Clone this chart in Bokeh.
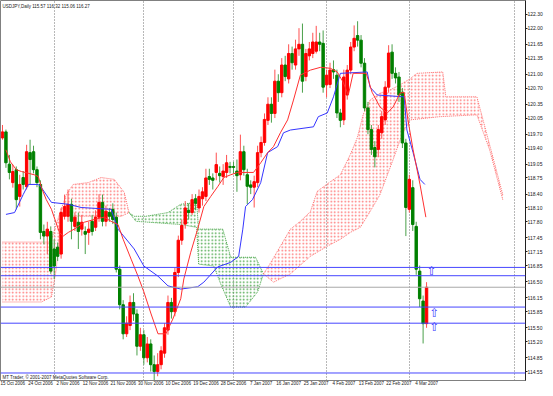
from bokeh.plotting import figure
from bokeh.models import (FixedTicker, Range1d, ColumnDataSource, Label, Span,
                          NumeralTickFormatter, AllLabels)
from bokeh.core.properties import value
from bokeh.embed import file_html
from bokeh.resources import INLINE

# ---------------- data ----------------
header_text = "USDJPY,Daily  115.57 116.32 115.06 116.27"
footer_text = "MT Trader, © 2001-2007 MetaQuotes Software Corp."

date_bars = [0, 8, 16, 24, 32, 40, 48, 56, 64, 72, 80, 88, 96, 104, 112, 120]
date_labels = ["15 Oct 2006", "24 Oct 2006", "2 Nov 2006", "12 Nov 2006", "21 Nov 2006",
               "30 Nov 2006", "10 Dec 2006", "19 Dec 2006", "28 Dec 2006", "7 Jan 2007",
               "16 Jan 2007", "25 Jan 2007", "4 Feb 2007", "13 Feb 2007", "22 Feb 2007",
               "4 Mar 2007"]
month_bars = [15, 41, 67, 94, 118, 148.4]

price_ticks = [122.30, 122.00, 121.65, 121.35, 121.00, 120.70, 120.35, 120.05, 119.70,
               119.40, 119.05, 118.75, 118.40, 118.10, 117.80, 117.45, 117.15, 116.85,
               116.50, 116.15, 115.85, 115.50, 115.20, 114.85, 114.55, 114.25]

open_ = [119.62, 119.75, 119.05, 118.65, 118.93, 118.35, 118.76, 118.56, 119.30, 119.32,
         118.93, 118.61, 117.59, 117.49, 117.59, 117.21, 117.25, 117.10, 117.92, 117.92,
         118.18, 117.70, 117.79, 117.64, 117.59, 117.57, 117.81, 117.68, 117.90, 118.22,
         117.81, 118.00, 118.07, 117.90, 116.77, 116.00, 115.37, 115.55, 116.05, 115.80,
         115.10, 115.35, 114.85, 115.15, 114.70, 114.55, 114.70, 114.95, 115.45, 116.05,
         115.85, 116.70, 117.40, 117.75, 118.05, 118.00, 118.30, 118.10, 118.30, 118.35,
         118.78, 118.75, 118.87, 118.85, 118.78, 118.87, 119.00, 119.00, 118.90, 118.82,
         119.32, 118.82, 118.60, 118.55, 118.65, 119.30, 119.52, 120.00, 120.35, 120.15,
         120.85, 120.60, 121.20, 120.90, 121.45, 121.20, 121.55, 121.65, 120.95, 121.40,
         121.45, 121.50, 121.70, 121.67, 120.77, 120.78, 121.10, 120.98, 120.16, 120.01,
         120.55, 121.09, 121.59, 121.84, 121.74, 121.24, 120.27, 119.80, 119.41, 119.37,
         119.73, 120.01, 120.72, 121.48, 121.02, 120.94, 120.61, 119.51, 118.07, 118.54,
         117.70, 116.73, 116.08, 115.59]
high_ = [119.90, 119.80, 119.25, 119.04, 119.00, 118.82, 118.90, 119.47, 119.58, 119.45,
         119.00, 118.70, 117.74, 117.80, 117.70, 117.42, 117.35, 118.10, 118.39, 118.50,
         118.30, 118.00, 118.00, 117.95, 117.70, 117.80, 117.95, 118.05, 118.40, 118.39,
         118.15, 118.10, 118.20, 118.00, 116.85, 116.10, 115.75, 116.20, 116.25, 115.90,
         115.50, 115.45, 115.30, 115.25, 114.90, 114.95, 115.10, 115.60, 116.20, 116.15,
         116.80, 117.50, 117.85, 118.25, 118.20, 118.40, 118.40, 118.50, 118.55, 118.95,
         118.95, 118.85, 119.30, 119.00, 119.05, 119.25, 119.10, 119.10, 119.15, 119.69,
         119.45, 118.95, 118.70, 118.80, 119.45, 119.65, 120.15, 120.50, 120.50, 121.10,
         121.00, 121.35, 121.40, 121.65, 121.60, 121.75, 122.00, 122.10, 121.55, 121.70,
         121.90, 122.05, 121.90, 121.95, 121.10, 121.25, 121.30, 121.10, 120.25, 121.10,
         121.20, 121.70, 122.06, 122.15, 121.85, 121.35, 120.40, 119.90, 119.55, 119.90,
         120.20, 120.85, 121.63, 121.65, 121.15, 121.05, 120.70, 119.60, 118.82, 118.70,
         117.80, 116.85, 116.20, 116.49]
low_ = [119.58, 118.97, 118.72, 118.54, 118.07, 118.13, 118.50, 118.50, 118.61, 118.85,
        118.55, 117.42, 117.31, 117.10, 116.67, 116.56, 116.95, 117.00, 117.85, 117.80,
        117.42, 117.60, 117.21, 117.50, 117.10, 117.30, 117.50, 117.60, 117.80, 117.70,
        117.70, 117.80, 117.75, 116.70, 115.90, 115.25, 115.30, 115.45, 115.65, 114.90,
        115.00, 114.70, 114.75, 114.55, 114.35, 114.45, 114.60, 114.85, 115.35, 115.70,
        115.75, 116.60, 117.30, 117.65, 117.85, 117.95, 118.05, 118.00, 118.15, 118.25,
        118.60, 118.50, 118.70, 118.65, 118.60, 118.75, 118.85, 118.85, 118.45, 118.70,
        118.80, 118.18, 118.40, 118.11, 118.55, 119.20, 119.45, 119.90, 119.95, 120.05,
        120.40, 120.50, 120.85, 120.80, 121.10, 121.10, 121.40, 120.60, 120.85, 121.30,
        121.35, 121.45, 121.50, 120.60, 120.50, 120.70, 120.90, 120.05, 119.85, 119.90,
        120.45, 121.00, 121.50, 121.60, 121.15, 120.20, 119.70, 119.25, 118.98, 119.20,
        119.60, 119.90, 120.60, 120.90, 120.80, 120.40, 119.40, 117.49, 118.00, 117.60,
        116.65, 115.95, 115.16, 115.50]
close_ = [119.75, 119.08, 118.87, 118.89, 118.28, 118.61, 118.61, 119.32, 119.15, 118.93,
          118.65, 117.57, 117.49, 117.64, 116.73, 116.84, 117.05, 118.00, 118.13, 118.18,
          117.81, 117.90, 117.59, 117.79, 117.53, 117.64, 117.59, 117.90, 118.22, 117.81,
          118.03, 117.92, 117.85, 116.77, 116.00, 115.37, 115.60, 116.05, 115.80, 115.10,
          115.35, 114.85, 115.15, 114.70, 114.55, 114.70, 115.00, 115.50, 116.05, 115.85,
          116.70, 117.40, 117.72, 118.10, 118.00, 118.28, 118.20, 118.35, 118.45, 118.75,
          118.72, 118.70, 119.04, 118.80, 118.90, 119.08, 118.98, 118.98, 118.80, 119.32,
          118.93, 118.57, 118.55, 118.67, 119.30, 119.52, 120.02, 120.35, 120.15, 120.85,
          120.60, 121.20, 120.95, 121.45, 121.25, 121.55, 121.65, 120.85, 121.45, 121.55,
          121.70, 121.70, 121.65, 120.72, 120.98, 121.09, 121.05, 120.16, 120.00, 120.94,
          121.09, 121.59, 121.78, 121.74, 121.24, 120.27, 119.80, 119.37, 119.21, 119.80,
          120.08, 120.72, 121.46, 121.02, 120.92, 120.55, 119.51, 118.11, 118.72, 117.74,
          116.77, 116.13, 115.59, 116.38]

# Ichimoku lines (bar index, price)
tenkan_x = [1, 2.3, 4, 5.5, 9.2, 10.4, 11.3, 12.7, 14.2, 16.5, 17.6, 19.1, 20.8, 23.7, 26.6,
            29.5, 31.5, 33.5, 35, 37.3, 39.3, 41, 43.1, 45.1, 47.4, 49.4, 51.7, 52.6, 54.6,
            56.6, 58.4, 60.4, 62.4, 64.2, 66.2, 68.2, 72.8, 74.9, 76.9, 78.6, 80.6, 82.7,
            84.4, 86.4, 89.3, 92.2, 95.1, 97.1, 98.8, 100.3, 101.7, 105.5, 107.2, 109.5,
            111.6, 113.3, 115.3, 116.5, 117.6, 119.1, 121.1, 122.8]
tenkan_y = [119.36, 119.10, 118.93, 118.89, 118.82, 118.78, 118.54, 118.28, 118.07, 117.57,
            117.49, 117.57, 117.64, 117.79, 117.85, 117.90, 117.81, 117.74, 117.42, 116.99,
            116.62, 116.28, 115.80, 115.37, 115.37, 115.69, 116.13, 116.56, 117.14, 117.64,
            118.13, 118.35, 118.56, 118.76, 118.82, 118.87, 118.87, 119.08, 119.30, 119.43,
            119.73, 120.01, 120.44, 120.98, 121.09, 121.15, 121.13, 121.05, 120.83, 120.55,
            121.02, 121.02, 120.61, 120.29, 120.16, 120.29, 120.59, 120.61, 120.01, 119.36,
            118.61, 117.90]
kijun_x = [1, 3.5, 6, 7.5, 10.4, 11.3, 14.2, 19.1, 22.8, 31.5, 33.5, 38.2, 41, 45.1, 48,
           51.7, 56.6, 58.4, 62.4, 66.2, 68.5, 69.7, 70.5, 72.5, 74.9, 76.9, 79.8, 81.5,
           83.5, 90.2, 91.6, 94.2, 96, 98, 105.8, 106.6, 108.7, 116.5, 117.3, 119.1, 121.1,
           122.5]
kijun_y = [117.96, 118.00, 118.39, 118.61, 118.61, 118.54, 118.22, 118.18, 118.11, 118.07,
           117.64, 117.21, 116.84, 116.62, 116.41, 116.34, 116.39, 116.49, 116.82, 116.92,
           117.05, 117.64, 118.13, 118.28, 118.65, 119.30, 119.43, 119.73, 119.79, 119.86,
           120.08, 120.16, 120.51, 121.02, 121.05, 120.72, 120.55, 120.51, 119.79, 119.30,
           118.72, 118.61]

# Kumo (cloud) edges, one pair per coloured part
red1_top_x = [0, 11, 14, 16.5, 18.5, 20.5, 24.9, 28.6, 32.4, 35.3, 36.7]
red1_top_y = [117.36, 117.36, 117.36, 117.96, 118.39, 118.61, 118.65, 118.76, 118.72, 118.44, 118.00]
red1_bot_x = [0, 11.3, 14.2, 15.6, 17, 34.5, 36.7]
red1_bot_y = [116.06, 116.06, 116.17, 116.77, 117.92, 117.92, 118.00]

green_top_x = [36.7, 38.2, 41.6, 48, 51.7, 56.3, 56.9, 63.9, 66.2, 73.4, 75.7]
green_top_y = [118.00, 117.92, 117.92, 118.00, 118.18, 118.22, 117.64, 117.64, 117.03, 117.03, 116.67]
green_bot_x = [36.7, 38.7, 51.7, 56.3, 56.9, 61.3, 63.3, 66.2, 70.5, 74, 75.7]
green_bot_y = [118.00, 117.81, 117.74, 117.68, 116.88, 116.84, 116.45, 115.95, 115.95, 116.28, 116.67]

red2_top_x = [75.7, 77.2, 80.6, 83.5, 86.4, 89.3, 91.3, 95.1, 98, 100.9, 102.9, 104.6, 106.6,
              109.5, 112.4, 115.3, 118.2, 120.2, 127.7, 128.6, 137.6, 141.3, 145.1]
red2_top_y = [116.67, 116.84, 117.27, 117.64, 117.81, 118.02, 118.46, 118.67, 118.82, 119.26,
              119.62, 120.12, 120.44, 120.59, 120.66, 120.77, 120.90, 121.02, 121.05, 120.51,
              120.51, 119.47, 118.39]
red2_bot_x = [75.7, 78.6, 83.5, 89.3, 94.2, 98, 100.9, 103.8, 106.6, 109.5, 113.3, 115.9,
              118.2, 126.9, 137.6, 141.3, 145.1]
red2_bot_y = [116.67, 116.49, 116.67, 117.05, 117.27, 117.42, 117.57, 117.68, 118.02, 118.39,
              119.15, 119.69, 120.01, 120.08, 120.12, 119.36, 118.28]

level_prices = [116.81, 116.63, 115.95, 115.60, 114.52]
bid_price = 116.38

arrow_x = [124.5, 125.3, 125.3]
arrow_y = [116.74, 115.83, 115.52]

# ---------------- figure ----------------
X0, X1 = -0.58, 151.7
Y0, Y1 = 114.357, 122.60
p = figure(width=545, height=388, output_backend="svg", toolbar_location=None,
           x_range=Range1d(X0, X1), y_range=Range1d(Y0, Y1), y_axis_location="right",
           min_border_left=0, min_border_top=0, min_border_right=18, min_border_bottom=6)
p.background_fill_color = "white"
p.border_fill_color = "white"
p.outline_line_color = "#808080"

FONT = "Liberation Sans"

ya = p.yaxis[0]
ya.ticker = FixedTicker(ticks=price_ticks)
ya.formatter = NumeralTickFormatter(format="0.00")
ya.major_label_text_font = FONT
ya.major_label_text_font_size = "5px"
ya.major_label_text_color = "#202020"
ya.major_label_standoff = 0
ya.major_tick_out = 2
ya.major_tick_in = 0
ya.minor_tick_out = 0
ya.minor_tick_in = 0
ya.axis_line_color = "#202020"
ya.major_tick_line_color = "#202020"

label_shift = 3
xa = p.xaxis[0]
xa.ticker = FixedTicker(ticks=[b + label_shift for b in date_bars])
xa.major_label_overrides = {b + label_shift: t for b, t in zip(date_bars, date_labels)}
xa.major_label_policy = AllLabels()
xa.major_label_text_font = FONT
xa.major_label_text_font_size = "4.5px"
xa.major_label_text_color = "#202020"
xa.major_label_standoff = 0
xa.major_tick_out = 0
xa.major_tick_in = 0
xa.minor_tick_out = 0
xa.minor_tick_in = 0
xa.axis_line_color = "#808080"

p.ygrid.visible = False
p.xgrid.ticker = FixedTicker(ticks=month_bars)
p.xgrid.grid_line_color = "#707070"
p.xgrid.grid_line_dash = "1 2"
p.xgrid.grid_line_width = 1

# cloud
RED_DOT = "#ff7070"
GREEN_DOT = "#4aa64a"
for tx, ty, bx, by, col in [(red1_top_x, red1_top_y, red1_bot_x, red1_bot_y, RED_DOT),
                            (green_top_x, green_top_y, green_bot_x, green_bot_y, GREEN_DOT),
                            (red2_top_x, red2_top_y, red2_bot_x, red2_bot_y, RED_DOT)]:
    p.patch(x=tx + bx[::-1], y=ty + by[::-1], fill_color=None, line_color=None,
            hatch_pattern="dot", hatch_color=col, hatch_scale=3.5, hatch_weight=1)
    p.line(tx, ty, line_color=col, line_dash="1 1", line_width=1)
    p.line(bx, by, line_color=col, line_dash="1 1", line_width=1)

# horizontal levels
for lv in level_prices:
    p.add_layout(Span(location=lv, dimension="width", line_color="#4646ff", line_width=1))
p.add_layout(Span(location=bid_price, dimension="width", line_color="#a8a8a8", line_width=1))

# candles
xs = list(range(len(open_)))
up = [c >= o for o, c in zip(open_, close_)]
src = ColumnDataSource(dict(
    x=xs, high=high_, low=low_,
    top=[max(o, c) for o, c in zip(open_, close_)],
    bottom=[min(o, c) for o, c in zip(open_, close_)],
    body=["#ff0000" if u else "#008000" for u in up],
    wick=["#ff5050" if u else "#4aa04a" for u in up]))
p.segment(x0="x", y0="low", x1="x", y1="high", source=src, line_color="wick", line_width=1)
p.vbar(x="x", top="top", bottom="bottom", width=0.7, source=src,
       fill_color="body", line_color="body", line_width=1)

# indicator lines
p.line(kijun_x, kijun_y, line_color="#3535ff", line_width=1)
p.line(tenkan_x, tenkan_y, line_color="#ff3030", line_width=1)

# arrows
p.text(x=arrow_x, y=arrow_y, text=["⇧"] * len(arrow_x), text_font=value("DejaVu Sans"),
       text_font_size="12px", text_color="#4040ff", text_align="center", text_baseline="middle")

# price boxes on the scale
for lv in level_prices:
    p.add_layout(Label(x=X1, y=lv, text=f"{lv:.2f}", text_font=FONT, text_font_size="5px",
                       text_color="white", background_fill_color="#2020ff",
                       text_align="left", text_baseline="middle", x_offset=1))
p.add_layout(Label(x=X1, y=bid_price, text=f"{bid_price:.2f}", text_font=FONT,
                   text_font_size="5px", text_color="white", background_fill_color="black",
                   text_align="left", text_baseline="middle", x_offset=1))

p.add_layout(Label(x=X0, y=Y1, text=header_text, text_font=FONT, text_font_size="4.5px",
                   text_color="#202020", text_align="left", text_baseline="top",
                   x_offset=2, y_offset=-3))
p.add_layout(Label(x=X0, y=Y0, text=footer_text, text_font=FONT, text_font_size="4.5px",
                   text_color="#202020", text_align="left", text_baseline="bottom",
                   x_offset=2, y_offset=1))

open("out.html", "w").write(file_html(p, INLINE))
